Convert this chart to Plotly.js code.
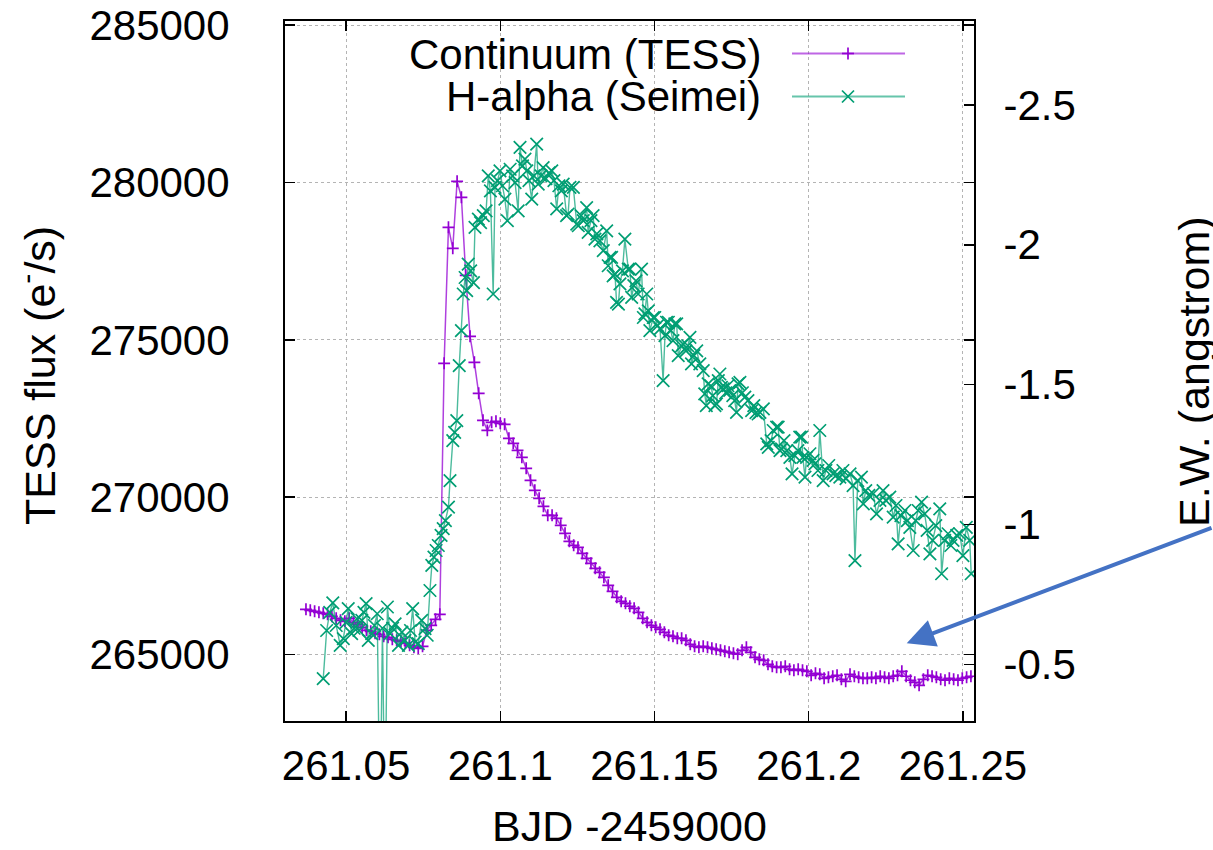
<!DOCTYPE html>
<html><head><meta charset="utf-8">
<script src="https://cdn.plot.ly/plotly-3.0.1.min.js"></script>
<style>html,body{margin:0;padding:0;background:#fff}#chart{width:1213px;height:850px}</style>
</head><body><div id="chart"></div>
<script>
const contTime = [
261.0370,261.0384,261.0398,261.0412,261.0426,261.0440,261.0454,261.0468,261.0482,261.0496,
261.0510,261.0524,261.0538,261.0552,261.0566,261.0580,261.0594,261.0608,261.0622,261.0636,
261.0650,261.0664,261.0678,261.0692,261.0706,261.0720,261.0734,261.0748,261.0762,261.0776,
261.0790,261.0804,261.0818,261.0832,261.0846,261.0860,261.0874,261.0888,261.0902,261.0916,
261.0930,261.0944,261.0958,261.0972,261.0986,261.1000,261.1014,261.1028,261.1042,261.1056,
261.1070,261.1084,261.1098,261.1112,261.1126,261.1140,261.1154,261.1168,261.1182,261.1196,
261.1210,261.1224,261.1238,261.1252,261.1266,261.1280,261.1294,261.1308,261.1322,261.1336,
261.1350,261.1364,261.1378,261.1392,261.1406,261.1420,261.1434,261.1448,261.1462,261.1476,
261.1490,261.1504,261.1518,261.1532,261.1546,261.1560,261.1574,261.1588,261.1602,261.1616,
261.1630,261.1644,261.1658,261.1672,261.1686,261.1700,261.1714,261.1728,261.1742,261.1756,
261.1770,261.1784,261.1798,261.1812,261.1826,261.1840,261.1854,261.1868,261.1882,261.1896,
261.1910,261.1924,261.1938,261.1952,261.1966,261.1980,261.1994,261.2008,261.2022,261.2036,
261.2050,261.2064,261.2078,261.2092,261.2106,261.2120,261.2134,261.2148,261.2162,261.2176,
261.2190,261.2204,261.2218,261.2232,261.2246,261.2260,261.2274,261.2288,261.2302,261.2316,
261.2330,261.2344,261.2358,261.2372,261.2386,261.2400,261.2414,261.2428,261.2442,261.2456,
261.2470,261.2484,261.2498,261.2512,261.2526
];
const contFlux = [
266439,266407,266375,266344,266312,266280,266217,266153,266090,266058,
266153,266026,265963,265868,265772,265740,265677,265645,265581,265550,
265486,265454,265422,265359,265295,265232,265200,265264,265772,265931,
266121,266280,274255,278576,277909,280037,279528,277050,275112,274286,
273301,272443,272125,272380,272412,272348,272316,271871,271712,271490,
271267,270918,270537,270219,269965,269711,269425,269425,269330,269107,
268853,268599,268472,268409,268218,268059,267900,267741,267614,267455,
267201,267011,266820,266693,266630,266535,266471,266344,266153,266026,
265931,265868,265804,265708,265613,265581,265518,265518,265454,265327,
265264,265232,265264,265232,265200,265168,265137,265105,265073,265041,
265010,265137,265232,265073,264914,264851,264819,264692,264628,264596,
264596,264628,264533,264501,264533,264501,264469,264342,264406,264374,
264247,264279,264311,264342,264215,264152,264374,264311,264279,264247,
264247,264279,264247,264311,264279,264247,264311,264342,264469,264311,
264184,264120,264025,264215,264342,264311,264279,264215,264184,264247,
264215,264184,264247,264279,264311
];
const haTime = [
261.0426,261.0437,261.0447,261.0457,261.0468,261.0481,261.0491,261.0500,261.0507,261.0518,
261.0526,261.0535,261.0542,261.0551,261.0558,261.0565,261.0572,261.0583,261.0592,261.0601,
261.0610,261.0618,261.0626,261.0634,261.0643,261.0651,261.0659,261.0670,261.0681,261.0691,
261.0702,261.0709,261.0716,261.0724,261.0734,261.0745,261.0756,261.0763,261.0772,261.0778,
261.0785,261.0792,261.0799,261.0808,261.0815,261.0822,261.0832,261.0837,261.0846,261.0852,
261.0859,261.0867,261.0874,261.0880,261.0886,261.0891,261.0896,261.0904,261.0913,261.0918,
261.0929,261.0936,261.0945,261.0954,261.0961,261.0968,261.0977,261.0983,261.0991,261.0999,
261.1007,261.1015,261.1023,261.1032,261.1040,261.1048,261.1058,261.1064,261.1072,261.1080,
261.1086,261.1093,261.1102,261.1109,261.1118,261.1123,261.1132,261.1139,261.1148,261.1158,
261.1167,261.1174,261.1183,261.1190,261.1198,261.1204,261.1215,261.1220,261.1226,261.1237,
261.1248,261.1253,261.1262,261.1269,261.1280,261.1285,261.1294,261.1301,261.1307,261.1313,
261.1323,261.1334,261.1345,261.1350,261.1356,261.1361,261.1366,261.1372,261.1377,261.1383,
261.1388,261.1396,261.1404,261.1415,261.1420,261.1426,261.1433,261.1440,261.1447,261.1458,
261.1464,261.1469,261.1475,261.1480,261.1485,261.1496,261.1501,261.1510,261.1518,261.1528,
261.1534,261.1539,261.1545,261.1553,261.1560,261.1566,261.1572,261.1577,261.1588,261.1593,
261.1602,261.1608,261.1615,261.1620,261.1628,261.1637,261.1647,261.1658,261.1663,261.1668,
261.1674,261.1683,261.1689,261.1696,261.1701,261.1707,261.1712,261.1717,261.1723,261.1731,
261.1738,261.1744,261.1754,261.1760,261.1766,261.1771,261.1777,261.1785,261.1793,261.1803,
261.1815,261.1822,261.1829,261.1836,261.1842,261.1853,261.1864,261.1869,261.1878,261.1885,
261.1896,261.1901,261.1907,261.1912,261.1920,261.1929,261.1939,261.1946,261.1955,261.1965,
261.1971,261.1977,261.1981,261.1988,261.1993,261.2004,261.2014,261.2020,261.2030,261.2036,
261.2047,261.2056,261.2065,261.2079,261.2088,261.2101,261.2111,261.2121,261.2134,261.2144,
261.2150,261.2159,261.2171,261.2177,261.2185,261.2195,261.2209,261.2220,261.2231,261.2241,
261.2250,261.2263,261.2274,261.2283,261.2290,261.2299,261.2312,261.2320,261.2328,261.2339,
261.2347,261.2355,261.2366,261.2376,261.2384,261.2393,261.2402,261.2412,261.2425,261.2431,
261.2441,261.2452,261.2461,261.2468,261.2480,261.2490,261.2500,261.2511,261.2522,261.2527
];
const haEW = [
-0.449,-0.621,-0.686,-0.720,-0.639,-0.568,-0.592,-0.650,-0.699,-0.610,
-0.629,-0.663,-0.621,-0.657,-0.686,-0.717,-0.586,-0.610,-0.639,-0.681,
0.100,-0.629,0.100,-0.705,-0.610,-0.629,-0.645,-0.568,-0.615,-0.586,
-0.568,-0.621,-0.699,-0.580,-0.574,-0.657,-0.628,-0.604,-0.764,-0.854,
-0.883,-0.907,-0.925,-0.961,-0.985,-1.014,-1.062,-1.157,-1.300,-1.329,
-1.371,-1.568,-1.693,-1.824,-1.883,-1.836,-1.931,-1.907,-1.865,-2.062,
-2.092,-2.079,-2.104,-2.121,-2.246,-2.193,-1.824,-2.205,-2.229,-2.264,
-2.211,-2.163,-2.086,-2.270,-2.246,-2.222,-2.121,-2.348,-2.282,-2.306,
-2.264,-2.229,-2.163,-2.246,-2.360,-2.217,-2.246,-2.276,-2.236,-2.257,
-2.264,-2.229,-2.128,-2.211,-2.193,-2.217,-2.104,-2.110,-2.205,-2.205,
-2.074,-2.068,-2.104,-2.086,-2.133,-2.044,-2.086,-2.104,-2.020,-2.039,
-2.014,-1.979,-2.050,-1.925,-1.955,-1.955,-1.889,-1.895,-1.794,-1.788,
-1.860,-1.907,-2.020,-1.913,-1.913,-1.812,-1.854,-1.871,-1.824,-1.913,
-1.740,-1.753,-1.824,-1.764,-1.693,-1.740,-1.740,-1.711,-1.699,-1.514,
-1.675,-1.723,-1.723,-1.693,-1.657,-1.717,-1.717,-1.604,-1.639,-1.645,
-1.621,-1.639,-1.669,-1.574,-1.604,-1.621,-1.574,-1.550,-1.467,-1.425,
-1.503,-1.496,-1.461,-1.425,-1.431,-1.514,-1.538,-1.490,-1.485,-1.471,
-1.496,-1.479,-1.461,-1.443,-1.401,-1.503,-1.508,-1.471,-1.455,-1.443,
-1.407,-1.425,-1.400,-1.395,-1.401,-1.413,-1.288,-1.276,-1.300,-1.336,
-1.348,-1.348,-1.264,-1.270,-1.300,-1.264,-1.240,-1.181,-1.246,-1.264,
-1.312,-1.312,-1.240,-1.169,-1.240,-1.253,-1.229,-1.217,-1.193,-1.336,
-1.157,-1.193,-1.211,-1.181,-1.175,-1.169,-1.193,-1.164,-1.181,-1.139,
-0.871,-1.157,-1.169,-1.074,-1.121,-1.104,-1.110,-1.038,-1.086,-1.121,
-1.086,-1.098,-1.026,-1.068,-0.931,-1.032,-1.050,-1.014,-0.990,-0.907,
-1.014,-1.050,-1.080,-1.038,-0.979,-0.895,-0.943,-0.996,-1.056,-0.824,
-0.943,-0.967,-0.925,-0.943,-0.961,-0.967,-0.889,-0.990,-0.943,-0.824
];
const seriesNames = ['Continuum (TESS)', 'H-alpha (Seimei)'];
const xTickVals = [261.05, 261.1, 261.15, 261.2, 261.25];
const xTickText = ['261.05', '261.1', '261.15', '261.2', '261.25'];
const yTickVals = [265000, 270000, 275000, 280000, 285000];
const yTickText = ['265000', '270000', '275000', '280000', '285000'];
const y2TickVals = [-2.5, -2, -1.5, -1, -0.5];
const y2TickText = ['-2.5', '-2', '-1.5', '-1', '-0.5'];
const xTitle = 'BJD -2459000';
const yTitle = 'TESS flux (e<sup>-</sup>/s)';
const y2Title = 'E.W. (angstrom)';

const PURPLE = '#9400d3', GREEN = '#009e73';
const FONT = 'Liberation Sans, Arial, Helvetica, sans-serif';
const L = 285, R = 974, T = 21, B = 721;
const PX = v => (v - L) / (R - L);
const PY = v => (B - v) / (B - T);
const FS = 42;

const traces = [
  {x: contTime, y: contFlux, name: seriesNames[0], type: 'scatter', mode: 'lines+markers',
   line: {color: 'rgba(148,0,211,0.75)', width: 1.5},
   marker: {symbol: 'cross-thin-open', size: 8.5, color: PURPLE, line: {color: PURPLE, width: 1.7}},
   yaxis: 'y', showlegend: false},
  {x: haTime, y: haEW, name: seriesNames[1], type: 'scatter', mode: 'lines+markers',
   line: {color: 'rgba(0,158,115,0.7)', width: 1.4},
   marker: {symbol: 'x-thin-open', size: 12.5, color: GREEN, line: {color: GREEN, width: 1.7}},
   yaxis: 'y2', showlegend: false}
];

const axFont = {family: FONT, size: FS, color: '#000'};
const common = {ticks: 'inside', ticklen: 10, tickwidth: 1.5, tickcolor: '#000',
  showline: true, linecolor: '#000', linewidth: 2, zeroline: false, tickfont: axFont, tickmode: 'array'};

function legendMark(cx, cy, kind, color) {
  const s = [];
  if (kind === 'plus') {
    s.push({type: 'line', xref: 'paper', yref: 'paper', x0: PX(cx - 6), x1: PX(cx + 6), y0: PY(cy), y1: PY(cy), line: {color: color, width: 1.7}});
    s.push({type: 'line', xref: 'paper', yref: 'paper', x0: PX(cx), x1: PX(cx), y0: PY(cy - 6), y1: PY(cy + 6), line: {color: color, width: 1.7}});
  } else {
    s.push({type: 'line', xref: 'paper', yref: 'paper', x0: PX(cx - 6), x1: PX(cx + 6), y0: PY(cy - 6), y1: PY(cy + 6), line: {color: color, width: 1.7}});
    s.push({type: 'line', xref: 'paper', yref: 'paper', x0: PX(cx - 6), x1: PX(cx + 6), y0: PY(cy + 6), y1: PY(cy - 6), line: {color: color, width: 1.7}});
  }
  return s;
}

const shapes = [
  {type: 'line', xref: 'paper', yref: 'paper', x0: PX(792), x1: PX(905), y0: PY(53.5), y1: PY(53.5), line: {color: 'rgba(148,0,211,0.6)', width: 2}},
  {type: 'line', xref: 'paper', yref: 'paper', x0: PX(792), x1: PX(905), y0: PY(96.5), y1: PY(96.5), line: {color: 'rgba(0,158,115,0.6)', width: 2}}
].concat(legendMark(848, 53.5, 'plus', PURPLE), legendMark(848, 96.5, 'x', GREEN));

const annotations = [
  {xref: 'paper', yref: 'paper', x: PX(763), y: PY(54), xanchor: 'right', yanchor: 'middle', text: seriesNames[0], showarrow: false, font: {family: FONT, size: FS, color: '#000'}},
  {xref: 'paper', yref: 'paper', x: PX(763), y: PY(97), xanchor: 'right', yanchor: 'middle', text: seriesNames[1], showarrow: false, font: {family: FONT, size: FS, color: '#000'}},
  {xref: 'paper', yref: 'paper', x: PX(37), y: PY(376), xanchor: 'center', yanchor: 'middle', textangle: -90, text: yTitle, showarrow: false, font: {family: FONT, size: 43, color: '#000'}},
  {xref: 'paper', yref: 'paper', x: PX(1194), y: PY(372), xanchor: 'center', yanchor: 'middle', textangle: -90, text: y2Title, showarrow: false, font: {family: FONT, size: 43, color: '#000'}},
  {xref: 'paper', yref: 'paper', x: PX(629.5), y: PY(826), xanchor: 'center', yanchor: 'middle', text: xTitle, showarrow: false, font: {family: FONT, size: 43, color: '#000'}},
  {xref: 'paper', yref: 'paper', x: PX(906.7), y: PY(643.3), axref: 'pixel', ayref: 'pixel', ax: 323, ay: -116,
   text: '', showarrow: true, arrowhead: 2, arrowsize: 1.4, arrowwidth: 4, arrowcolor: '#4472c4', standoff: 0}
];

const layout = {
  width: 1213, height: 850,
  margin: {l: L, r: 1213 - R, t: T, b: 850 - B, pad: 0},
  paper_bgcolor: '#fff', plot_bgcolor: '#fff',
  showlegend: false,
  font: {family: FONT, color: '#000'},
  xaxis: Object.assign({}, common, {range: [261.0302, 261.2536], tickvals: xTickVals, ticktext: xTickText,
    mirror: 'ticks', showgrid: true, gridcolor: '#b4b4b4', griddash: 'dot', gridwidth: 1, ticklabelstandoff: 7}),
  yaxis: Object.assign({}, common, {range: [262890, 285130], tickvals: yTickVals, ticktext: yTickText,
    mirror: 'ticks', showgrid: true, gridcolor: '#b4b4b4', griddash: 'dot', gridwidth: 1, ticklabelstandoff: 45}),
  yaxis2: Object.assign({}, common, {overlaying: 'y', side: 'right', range: [-0.2975, -2.80],
    tickvals: y2TickVals, ticktext: y2TickText, showgrid: false, ticklabelstandoff: 19}),
  shapes: shapes,
  annotations: annotations
};

Plotly.newPlot('chart', traces, layout, {displayModeBar: false, staticPlot: true});
</script>
</body></html>
